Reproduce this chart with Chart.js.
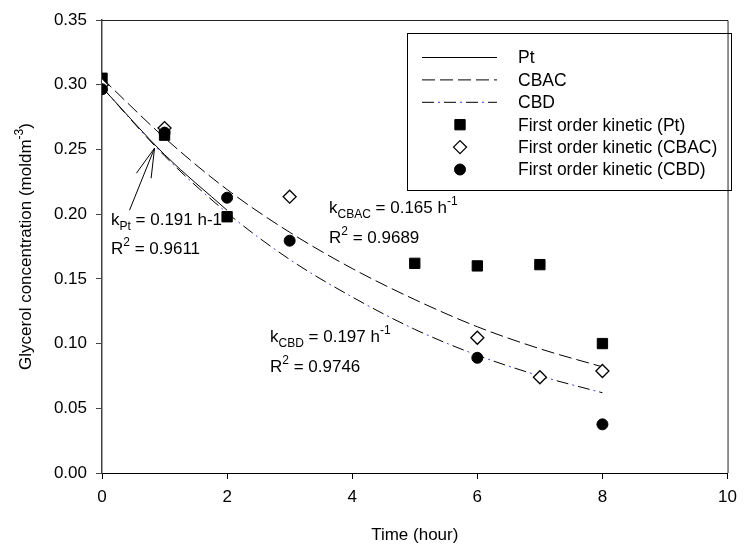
<!DOCTYPE html>
<html>
<head>
<meta charset="utf-8">
<script src="https://cdn.jsdelivr.net/npm/chart.js@4.4.1/dist/chart.umd.min.js"></script>
<style>
  html, body { margin: 0; padding: 0; background: #fff; }
  #wrap { width: 745px; height: 547px; position: relative; }
</style>
</head>
<body>
<div id="wrap"><canvas id="chart"></canvas></div>
<script>
// fitted first order curves at whole hours
const fitHours = [0, 1, 2, 3, 4, 5, 6, 7, 8];
const ptFitHours = [0, 1, 2];
const ptFit = [0.298, 0.246, 0.203];
const cbacFit = [0.305, 0.259, 0.219, 0.186, 0.158, 0.134, 0.113, 0.096, 0.082];
const cbdFit = [0.298, 0.245, 0.201, 0.165, 0.136, 0.111, 0.091, 0.075, 0.062];

// measured points
const ptHours = [0, 1, 2, 5, 6, 7, 8];
const ptConc = [0.305, 0.261, 0.198, 0.162, 0.160, 0.161, 0.100];
const cbacHours = [0, 1, 3, 6, 7, 8];
const cbacConc = [0.300, 0.2665, 0.2135, 0.1045, 0.074, 0.0788];
const cbdHours = [0, 1, 2, 3, 6, 8];
const cbdConc = [0.2965, 0.263, 0.2127, 0.1795, 0.089, 0.0376];

const xTicks = [0, 2, 4, 6, 8, 10];
const yTicks = [0, 0.05, 0.10, 0.15, 0.20, 0.25, 0.30, 0.35];

const FONT = "'Liberation Sans', Arial, sans-serif";
Chart.defaults.font.family = FONT;
Chart.defaults.font.size = 17;
Chart.defaults.color = '#000';

function pairs(xs, ys) {
    return xs.map((x, i) => ({ x: x, y: ys[i] }));
}

// draw text made of pieces, some sub- or superscript
function drawRich(ctx, x, y, parts) {
    ctx.textBaseline = 'alphabetic';
    ctx.textAlign = 'left';
    parts.forEach(p => {
        let dy = 0;
        if (p.sub) { ctx.font = '12px ' + FONT; dy = 5; }
        else if (p.sup) { ctx.font = '12px ' + FONT; dy = -8; }
        else ctx.font = '17px ' + FONT;
        ctx.fillText(p.t, x, y + dy);
        x += ctx.measureText(p.t).width;
    });
}

function markerPath(ctx, style, r, x, y) {
    ctx.beginPath();
    if (style === 'rect') {
        const s = Math.SQRT1_2 * r;
        ctx.rect(x - s, y - s, 2 * s, 2 * s);
    } else if (style === 'rectRot') {
        ctx.moveTo(x - r, y); ctx.lineTo(x, y - r);
        ctx.lineTo(x + r, y); ctx.lineTo(x, y + r);
        ctx.closePath();
    } else {
        ctx.arc(x, y, r, 0, Math.PI * 2);
    }
}

const extras = {
    id: 'extras',
    afterDraw(chart) {
        const ctx = chart.ctx;
        const a = chart.chartArea;
        const sx = chart.scales.x, sy = chart.scales.y;
        ctx.save();

        // top and right frame
        ctx.strokeStyle = '#222';
        ctx.lineWidth = 1;
        ctx.beginPath();
        ctx.moveTo(a.left, a.top + 0.5);
        ctx.lineTo(a.right + 0.5, a.top + 0.5);
        ctx.lineTo(a.right + 0.5, a.bottom);
        ctx.stroke();

        // y title with superscript
        ctx.fillStyle = '#000';
        ctx.save();
        ctx.translate(31, (a.top + a.bottom) / 2);
        ctx.rotate(-Math.PI / 2);
        const ytParts = [{ t: 'Glycerol concentration (moldm' }, { t: '-3', sup: true }, { t: ')' }];
        let w = 0;
        ytParts.forEach(p => {
            ctx.font = (p.sup ? '12px ' : '17px ') + FONT;
            w += ctx.measureText(p.t).width;
        });
        drawRich(ctx, -w / 2, 0, ytParts);
        ctx.restore();

        // legend box
        ctx.strokeStyle = '#000';
        ctx.lineWidth = 1;
        ctx.strokeRect(407.5, 33.5, 324, 157);
        const rows = chart.data.datasets.filter(d => d.inLegend);
        rows.forEach((d, i) => {
            const y = 57.5 + i * 22.4;
            if (d.showLine) {
                ctx.save();
                ctx.strokeStyle = d.borderColor;
                ctx.lineWidth = 1;
                ctx.setLineDash(d.borderDash || []);
                ctx.beginPath();
                ctx.moveTo(422, y);
                ctx.lineTo(497, y);
                ctx.stroke();
                if (d.dotColor) {
                    ctx.strokeStyle = d.dotColor;
                    ctx.setLineDash([2, 20]);
                    ctx.lineDashOffset = 6;
                    ctx.beginPath();
                    ctx.moveTo(422, y);
                    ctx.lineTo(497, y);
                    ctx.stroke();
                }
                ctx.restore();
            } else {
                ctx.save();
                ctx.fillStyle = d.pointBackgroundColor;
                ctx.strokeStyle = d.pointBorderColor;
                ctx.lineWidth = d.pointBorderWidth;
                markerPath(ctx, d.pointStyle, d.pointRadius, 460, y);
                ctx.fill();
                ctx.stroke();
                ctx.restore();
            }
            ctx.fillStyle = '#000';
            ctx.font = '17.5px ' + FONT;
            ctx.textAlign = 'left';
            ctx.textBaseline = 'middle';
            ctx.fillText(d.label, 518, y + 1);
        });

        // rate constant notes
        ctx.fillStyle = '#000';
        drawRich(ctx, 111, 225, [{ t: 'k' }, { t: 'Pt', sub: true }, { t: ' = 0.191 h-1' }]);
        drawRich(ctx, 111, 254, [{ t: 'R' }, { t: '2', sup: true }, { t: ' = 0.9611' }]);
        drawRich(ctx, 329, 213, [{ t: 'k' }, { t: 'CBAC', sub: true }, { t: ' = 0.165 h' }, { t: '-1', sup: true }]);
        drawRich(ctx, 329, 243, [{ t: 'R' }, { t: '2', sup: true }, { t: ' = 0.9689' }]);
        drawRich(ctx, 270, 342, [{ t: 'k' }, { t: 'CBD', sub: true }, { t: ' = 0.197 h' }, { t: '-1', sup: true }]);
        drawRich(ctx, 270, 372, [{ t: 'R' }, { t: '2', sup: true }, { t: ' = 0.9746' }]);

        // arrow from the Pt note to its curve
        const px = v => sx.getPixelForValue(v), py = v => sy.getPixelForValue(v);
        ctx.strokeStyle = '#000';
        ctx.lineWidth = 1;
        ctx.setLineDash([]);
        ctx.beginPath();
        ctx.moveTo(px(0.44), py(0.203)); ctx.lineTo(px(0.84), py(0.251));
        ctx.moveTo(px(0.55), py(0.2316)); ctx.lineTo(px(0.84), py(0.251));
        ctx.lineTo(px(0.785), py(0.2277));
        ctx.stroke();

        ctx.restore();
    }
};

const ctx = document.getElementById('chart').getContext('2d');
const chart = new Chart(ctx, {
    type: 'scatter',
    data: {
        datasets: [
            {
                label: 'Pt', inLegend: true, showLine: true,
                data: pairs(ptFitHours, ptFit),
                borderColor: '#000', borderWidth: 1, pointRadius: 0,
                cubicInterpolationMode: 'monotone', order: 10
            },
            {
                label: 'CBAC', inLegend: true, showLine: true,
                data: pairs(fitHours, cbacFit),
                borderColor: '#000', borderWidth: 1, borderDash: [13, 5], pointRadius: 0,
                cubicInterpolationMode: 'monotone', order: 10
            },
            {
                label: 'CBD', inLegend: true, showLine: true, dotColor: '#3a3aff',
                data: pairs(fitHours, cbdFit),
                borderColor: '#000', borderWidth: 1, borderDash: [12, 10], pointRadius: 0,
                cubicInterpolationMode: 'monotone', order: 10
            },
            {
                label: 'CBD dots', inLegend: false, showLine: true,
                data: pairs(fitHours, cbdFit),
                borderColor: '#3a3aff', borderWidth: 1, borderDash: [2, 20], borderDashOffset: 6,
                pointRadius: 0, cubicInterpolationMode: 'monotone', order: 10
            },
            {
                label: 'First order kinetic (Pt)', inLegend: true, showLine: false,
                data: pairs(ptHours, ptConc),
                pointStyle: 'rect', pointRadius: 7.3, pointBorderWidth: 1,
                pointBackgroundColor: '#000', pointBorderColor: '#000', order: 3
            },
            {
                label: 'First order kinetic (CBAC)', inLegend: true, showLine: false,
                data: pairs(cbacHours, cbacConc),
                pointStyle: 'rectRot', pointRadius: 6.5, pointBorderWidth: 1.3,
                pointBackgroundColor: '#fff', pointBorderColor: '#000', order: 2
            },
            {
                label: 'First order kinetic (CBD)', inLegend: true, showLine: false,
                data: pairs(cbdHours, cbdConc),
                pointStyle: 'circle', pointRadius: 5.5, pointBorderWidth: 1,
                pointBackgroundColor: '#000', pointBorderColor: '#000', order: 1
            }
        ]
    },
    options: {
        responsive: true,
        maintainAspectRatio: false,
        animation: false,
        events: [],
        layout: { padding: { left: 0, right: 10, top: 20, bottom: 0 } },
        plugins: { legend: { display: false }, tooltip: { enabled: false } },
        scales: {
            x: {
                type: 'linear', min: 0, max: 10,
                afterBuildTicks: s => { s.ticks = xTicks.map(v => ({ value: v })); },
                afterFit: s => { s.height = 74; },
                grid: { drawOnChartArea: false, tickLength: 6, color: '#000' },
                border: { color: '#000', width: 1 },
                ticks: { padding: 8, callback: v => String(v) },
                title: { display: true, text: 'Time (hour)', font: { size: 17 }, padding: { top: 4, bottom: 1 } }
            },
            y: {
                type: 'linear', min: 0, max: 0.35,
                afterBuildTicks: s => { s.ticks = yTicks.map(v => ({ value: v })); },
                afterFit: s => { s.width = 102; },
                grid: { drawOnChartArea: false, tickLength: 6, color: '#444' },
                border: { color: '#444', width: 1.5 },
                ticks: { padding: 9, callback: v => v.toFixed(2) }
            }
        }
    },
    plugins: [extras]
});
</script>
</body>
</html>
